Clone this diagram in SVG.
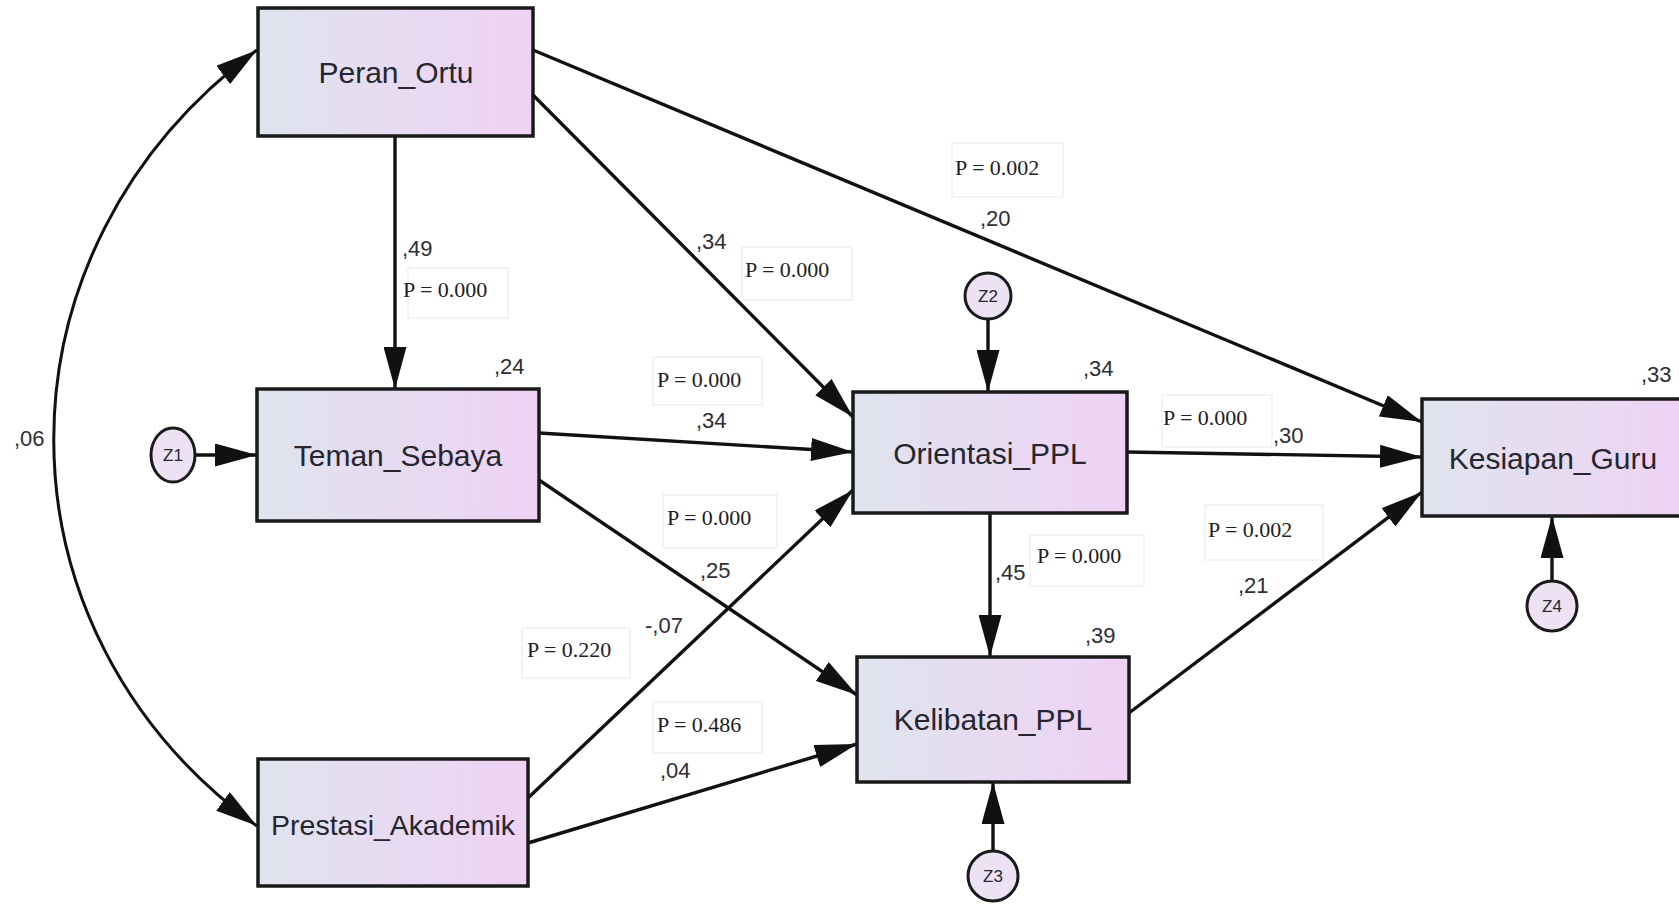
<svg xmlns="http://www.w3.org/2000/svg" width="1679" height="905" viewBox="0 0 1679 905">
  <style>
    .box { stroke: #1a1a1a; stroke-width: 3.5; fill: url(#boxFill); }
    .err { stroke: #1a1a1a; stroke-width: 3; fill: #ece2f4; }
    .name { font-family: "Liberation Sans", Arial, sans-serif; font-size: 30px; fill: #26262f; text-anchor: middle; }
    .zname { font-family: "Liberation Sans", Arial, sans-serif; font-size: 17px; fill: #26262f; text-anchor: middle; }
    .coef { font-family: "Liberation Sans", Arial, sans-serif; font-size: 22px; fill: #2e2e33; }
    .pval { font-family: "Liberation Serif", "Times New Roman", serif; font-size: 22px; fill: #1e1e1e; }
    .pbox { fill: #ffffff; stroke: #f0f0f0; stroke-width: 1.5; }
    .edge { stroke: #111; stroke-width: 3.4; fill: none; marker-end: url(#head); }
  </style>
  <defs>
    <linearGradient id="boxFill" x1="0" y1="0" x2="1" y2="0">
      <stop offset="0" stop-color="#dfe4ee"/>
      <stop offset="1" stop-color="#efd2f4"/>
    </linearGradient>
    <marker id="head" viewBox="0 0 42 23" refX="42" refY="11.5" markerWidth="42" markerHeight="23" markerUnits="userSpaceOnUse" orient="auto-start-reverse">
      <path d="M0,0 L42,11.5 L0,23 Z" fill="#111"/>
    </marker>
  </defs>

  <rect width="1679" height="905" fill="#ffffff"/>

  <!-- p-value label backgrounds -->
  <g id="pboxes">
    <rect class="pbox" x="952" y="143" width="111" height="54"/>
    <rect class="pbox" x="408" y="268" width="100" height="50"/>
    <rect class="pbox" x="742" y="247" width="110" height="53"/>
    <rect class="pbox" x="653" y="357" width="109" height="48"/>
    <rect class="pbox" x="663" y="495" width="114" height="53"/>
    <rect class="pbox" x="522" y="628" width="108" height="50"/>
    <rect class="pbox" x="653" y="702" width="109" height="51"/>
    <rect class="pbox" x="1162" y="395" width="110" height="52"/>
    <rect class="pbox" x="1205" y="505" width="118" height="55"/>
    <rect class="pbox" x="1030" y="535" width="114" height="51"/>
  </g>

  <!-- paths between variables -->
  <g id="connectors">
    <path class="edge" d="M257,50 C-14,250 -14,630 257,826" style="marker-start:url(#head);stroke-width:3"/>
    <line class="edge" x1="395" y1="136" x2="395" y2="389"/>
    <line class="edge" x1="533" y1="95" x2="853" y2="417"/>
    <line class="edge" x1="533" y1="50" x2="1422" y2="422"/>
    <line class="edge" x1="539" y1="433" x2="853" y2="452"/>
    <line class="edge" x1="539" y1="480" x2="857" y2="695"/>
    <line class="edge" x1="528" y1="798" x2="853" y2="490"/>
    <line class="edge" x1="528" y1="843" x2="857" y2="744"/>
    <line class="edge" x1="990" y1="513" x2="990" y2="657"/>
    <line class="edge" x1="1127" y1="452" x2="1422" y2="457"/>
    <line class="edge" x1="1129" y1="713" x2="1422" y2="492"/>
    <line class="edge" x1="195" y1="455" x2="257" y2="455"/>
    <line class="edge" x1="988" y1="319" x2="988" y2="392"/>
    <line class="edge" x1="993" y1="851" x2="993" y2="782"/>
    <line class="edge" x1="1552" y1="581" x2="1552" y2="516"/>
  </g>

  <!-- observed variables -->
  <g id="peran-ortu">
    <rect class="box" x="258" y="8" width="275" height="128"/>
    <text class="name" x="396" y="83">Peran_Ortu</text>
  </g>
  <g id="teman-sebaya">
    <rect class="box" x="257" y="389" width="282" height="132"/>
    <text class="name" x="398" y="466">Teman_Sebaya</text>
  </g>
  <g id="prestasi-akademik">
    <rect class="box" x="258" y="759" width="270" height="127"/>
    <text class="name" x="393" y="835" style="font-size:28.5px">Prestasi_Akademik</text>
  </g>
  <g id="orientasi-ppl">
    <rect class="box" x="853" y="392" width="274" height="121"/>
    <text class="name" x="990" y="464">Orientasi_PPL</text>
  </g>
  <g id="kelibatan-ppl">
    <rect class="box" x="857" y="657" width="272" height="125"/>
    <text class="name" x="993" y="730">Kelibatan_PPL</text>
  </g>
  <g id="kesiapan-guru">
    <rect class="box" x="1422" y="399" width="270" height="117"/>
    <text class="name" x="1553" y="469">Kesiapan_Guru</text>
  </g>

  <!-- residual terms -->
  <g id="z1">
    <ellipse class="err" cx="173" cy="455" rx="22" ry="27"/>
    <text class="zname" x="173" y="461">Z1</text>
  </g>
  <g id="z2">
    <circle class="err" cx="988" cy="296" r="23"/>
    <text class="zname" x="988" y="302">Z2</text>
  </g>
  <g id="z3">
    <circle class="err" cx="993" cy="876" r="25"/>
    <text class="zname" x="993" y="882">Z3</text>
  </g>
  <g id="z4">
    <circle class="err" cx="1552" cy="606" r="25"/>
    <text class="zname" x="1552" y="612">Z4</text>
  </g>

  <!-- coefficients and R-squared values -->
  <g id="coefficients">
    <text class="coef" x="14" y="446">,06</text>
    <text class="coef" x="402" y="256">,49</text>
    <text class="coef" x="696" y="249">,34</text>
    <text class="coef" x="980" y="226">,20</text>
    <text class="coef" x="494" y="374">,24</text>
    <text class="coef" x="696" y="428">,34</text>
    <text class="coef" x="700" y="578">,25</text>
    <text class="coef" x="645" y="633">-,07</text>
    <text class="coef" x="660" y="778">,04</text>
    <text class="coef" x="1083" y="376">,34</text>
    <text class="coef" x="1085" y="643">,39</text>
    <text class="coef" x="995" y="580">,45</text>
    <text class="coef" x="1273" y="443">,30</text>
    <text class="coef" x="1238" y="593">,21</text>
    <text class="coef" x="1641" y="382">,33</text>
  </g>

  <!-- significance labels -->
  <g id="pvalues">
    <text class="pval" x="955" y="175">P = 0.002</text>
    <text class="pval" x="403" y="297">P = 0.000</text>
    <text class="pval" x="745" y="277">P = 0.000</text>
    <text class="pval" x="657" y="387">P = 0.000</text>
    <text class="pval" x="667" y="525">P = 0.000</text>
    <text class="pval" x="527" y="657">P = 0.220</text>
    <text class="pval" x="657" y="732">P = 0.486</text>
    <text class="pval" x="1163" y="425">P = 0.000</text>
    <text class="pval" x="1208" y="537">P = 0.002</text>
    <text class="pval" x="1037" y="563">P = 0.000</text>
  </g>
</svg>
